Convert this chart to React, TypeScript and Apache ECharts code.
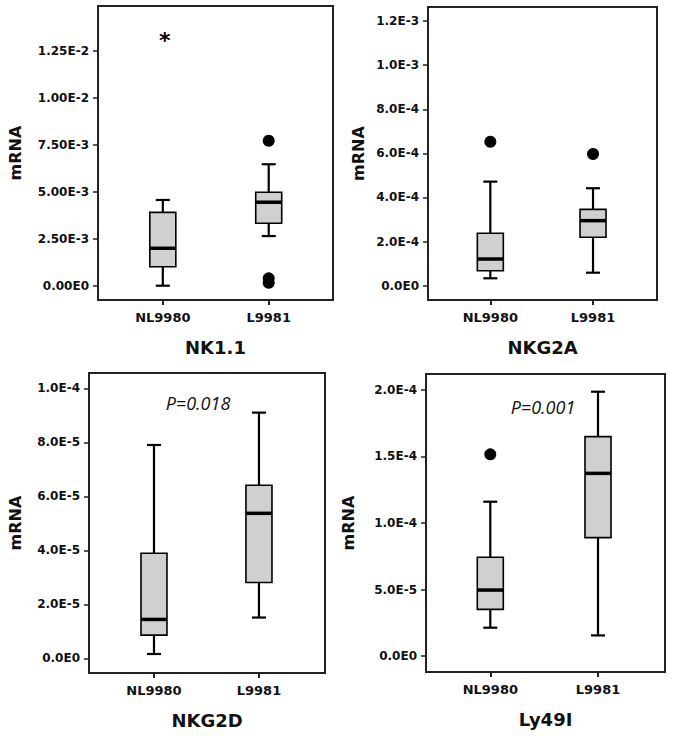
import React, { useEffect, useRef } from "react";
import * as echarts from "echarts";

const CATEGORIES = ["NL9980", "L9981"];

// [lower whisker, Q1, median, Q3, upper whisker]
const nk11NL = [0.0, 0.00101, 0.00199, 0.0039, 0.00456];
const nk11L = [0.00264, 0.00332, 0.00444, 0.00497, 0.00646];
const nk11Outliers = [[1, 0.00771], [1, 0.00039], [1, 0.00016]];
const nk11Extremes = [[0, 0.01316]];
const nk11Ticks = [0, 0.0025, 0.005, 0.0075, 0.01, 0.0125];
const nk11TickLabels = ["0.00E0", "2.50E-3", "5.00E-3", "7.50E-3", "1.00E-2", "1.25E-2"];

const nkg2aNL = [0.0000336, 0.000068, 0.000121, 0.000238, 0.000472];
const nkg2aL = [0.000059, 0.00022, 0.000295, 0.000346, 0.000442];
const nkg2aOutliers = [[0, 0.000653], [1, 0.000597]];
const nkg2aTicks = [0, 0.0002, 0.0004, 0.0006, 0.0008, 0.001, 0.0012];
const nkg2aTickLabels = ["0.0E0", "2.0E-4", "4.0E-4", "6.0E-4", "8.0E-4", "1.0E-3", "1.2E-3"];

const nkg2dNL = [1.6e-6, 8.6e-6, 1.44e-5, 3.89e-5, 7.9e-5];
const nkg2dL = [1.51e-5, 2.81e-5, 5.37e-5, 6.41e-5, 9.1e-5];
const nkg2dTicks = [0, 2e-5, 4e-5, 6e-5, 8e-5, 1e-4];
const nkg2dTickLabels = ["0.0E0", "2.0E-5", "4.0E-5", "6.0E-5", "8.0E-5", "1.0E-4"];

const ly49iNL = [2.13e-5, 3.51e-5, 4.96e-5, 7.42e-5, 1.16e-4];
const ly49iL = [1.55e-5, 8.9e-5, 1.373e-4, 1.649e-4, 1.987e-4];
const ly49iOutliers = [[0, 1.516e-4]];
const ly49iTicks = [0, 5e-5, 1e-4, 1.5e-4, 2e-4];
const ly49iTickLabels = ["0.0E0", "5.0E-5", "1.0E-4", "1.5E-4", "2.0E-4"];

const TITLES = ["NK1.1", "NKG2A", "NKG2D", "Ly49I"];
const P_TEXTS = ["P=0.018", "P=0.001"];

const FONT = "DejaVu Sans";
const INK = "#111";

const panels = [
  {
    grid: { left: 98, top: 6, width: 235, height: 294 },
    x: [-0.612, 1.607], y: [-0.000761, 0.014877],
    boxes: [nk11NL, nk11L], outliers: nk11Outliers, extremes: nk11Extremes,
    ticks: nk11Ticks, labels: nk11TickLabels, title: TITLES[0], yGap: 75,
  },
  {
    grid: { left: 428, top: 7, width: 229, height: 293 },
    x: [-0.607, 1.623], y: [-0.0000649, 0.001264],
    boxes: [nkg2aNL, nkg2aL], outliers: nkg2aOutliers, extremes: [],
    ticks: nkg2aTicks, labels: nkg2aTickLabels, title: TITLES[1], yGap: 62,
  },
  {
    grid: { left: 89, top: 373, width: 236, height: 300 },
    x: [-0.619, 1.629], y: [-5.44e-6, 1.0567e-4],
    boxes: [nkg2dNL, nkg2dL], outliers: [], extremes: [],
    ticks: nkg2dTicks, labels: nkg2dTickLabels, title: TITLES[2], yGap: 66,
  },
  {
    grid: { left: 426, top: 374, width: 239, height: 298 },
    x: [-0.597, 1.622], y: [-1.2e-5, 2.12e-4],
    boxes: [ly49iNL, ly49iL], outliers: ly49iOutliers, extremes: [],
    ticks: ly49iTicks, labels: ly49iTickLabels, title: TITLES[3], yGap: 70,
  },
];

const BOX_W = 26;
const CAP_W = 14;

function nearestLabel(v: number, ticks: number[], labels: string[]) {
  let best = 0;
  let bd = Infinity;
  ticks.forEach((t, i) => {
    const d = Math.abs(t - v);
    if (d < bd) { bd = d; best = i; }
  });
  return labels[best];
}

export default function App() {
  const ref = useRef<HTMLDivElement>(null);
  useEffect(() => {
    if (!ref.current) return;
    const chart = echarts.init(ref.current, null, { renderer: "svg" });
    const grids: any[] = [];
    const xAxes: any[] = [];
    const yAxes: any[] = [];
    const series: any[] = [];
    panels.forEach((p, i) => {
      grids.push({ ...p.grid, show: true, borderColor: "#222", borderWidth: 2, backgroundColor: "transparent" });
      xAxes.push({
        type: "value", gridIndex: i, min: p.x[0], max: p.x[1],
        name: p.title, nameLocation: "middle", nameGap: 38,
        nameTextStyle: { fontFamily: FONT, fontWeight: "bold", fontSize: 18, color: INK },
        splitLine: { show: false },
        axisLine: { show: true, onZero: false, lineStyle: { color: "#222", width: 2 } },
        axisTick: { show: true, length: 5, customValues: [0, 1], lineStyle: { color: "#222", width: 2 } },
        axisLabel: {
          customValues: [0, 1], margin: 11,
          fontFamily: FONT, fontWeight: "bold", fontSize: 13, color: INK,
          formatter: (v: number) => CATEGORIES[Math.round(v)] ?? "",
        },
      });
      yAxes.push({
        type: "value", gridIndex: i, min: p.y[0], max: p.y[1],
        name: "mRNA", nameLocation: "middle", nameGap: p.yGap, nameRotate: 90,
        nameTextStyle: { fontFamily: FONT, fontWeight: "bold", fontSize: 16, color: INK },
        splitLine: { show: false },
        axisLine: { show: true, onZero: false, lineStyle: { color: "#222", width: 2 } },
        axisTick: { show: true, length: 5, customValues: p.ticks, lineStyle: { color: "#222", width: 1.5 } },
        axisLabel: {
          customValues: p.ticks, margin: 9,
          fontFamily: FONT, fontWeight: "bold", fontSize: 12, color: INK,
          formatter: (v: number) => nearestLabel(v, p.ticks, p.labels),
        },
      });
      series.push({
        type: "custom", xAxisIndex: i, yAxisIndex: i,
        data: p.boxes.map((b, k) => [k, ...b]),
        encode: { x: 0, y: [1, 2, 3, 4, 5] },
        renderItem: (params: any, api: any) => {
          const x = api.value(0);
          const lo = api.coord([x, api.value(1)]);
          const q1 = api.coord([x, api.value(2)]);
          const md = api.coord([x, api.value(3)]);
          const q3 = api.coord([x, api.value(4)]);
          const hi = api.coord([x, api.value(5)]);
          const cx = lo[0];
          const ls = { stroke: "#000", lineWidth: 2.2 };
          return {
            type: "group",
            children: [
              { type: "line", shape: { x1: cx, y1: lo[1], x2: cx, y2: hi[1] }, style: ls },
              { type: "line", shape: { x1: cx - CAP_W / 2, y1: lo[1], x2: cx + CAP_W / 2, y2: lo[1] }, style: ls },
              { type: "line", shape: { x1: cx - CAP_W / 2, y1: hi[1], x2: cx + CAP_W / 2, y2: hi[1] }, style: ls },
              { type: "rect", shape: { x: cx - BOX_W / 2, y: q3[1], width: BOX_W, height: q1[1] - q3[1] },
                style: { fill: "#d0d0d0", stroke: "#000", lineWidth: 1.6 } },
              { type: "line", shape: { x1: cx - BOX_W / 2, y1: md[1], x2: cx + BOX_W / 2, y2: md[1] },
                style: { stroke: "#000", lineWidth: 3.5 } },
            ],
          };
        },
      });
      if (p.outliers.length) {
        series.push({
          type: "scatter", xAxisIndex: i, yAxisIndex: i, data: p.outliers,
          symbol: "circle", symbolSize: 12, itemStyle: { color: "#000", opacity: 1 },
        });
      }
      if (p.extremes.length) {
        series.push({
          type: "scatter", xAxisIndex: i, yAxisIndex: i, data: p.extremes,
          symbol: "circle", symbolSize: 1, itemStyle: { color: "transparent", opacity: 1 },
          label: {
            show: true, position: "inside", formatter: "*", offset: [2, 2],
            fontFamily: FONT, fontWeight: "bold", fontSize: 22, color: "#000",
          },
        });
      }
    });
    chart.setOption({
      animation: false,
      backgroundColor: "#fff",
      grid: grids,
      xAxis: xAxes,
      yAxis: yAxes,
      series,
      graphic: [
        { type: "text", x: 198, y: 403, style: { text: P_TEXTS[0], font: "italic 18px 'Open Sans'", fill: INK, align: "center", verticalAlign: "middle" } },
        { type: "text", x: 543, y: 407, style: { text: P_TEXTS[1], font: "italic 18px 'Open Sans'", fill: INK, align: "center", verticalAlign: "middle" } },
      ],
    });
    return () => chart.dispose();
  }, []);
  return <div ref={ref} style={{ position: "absolute", left: 0, top: 0, width: 673, height: 736 }} />;
}
